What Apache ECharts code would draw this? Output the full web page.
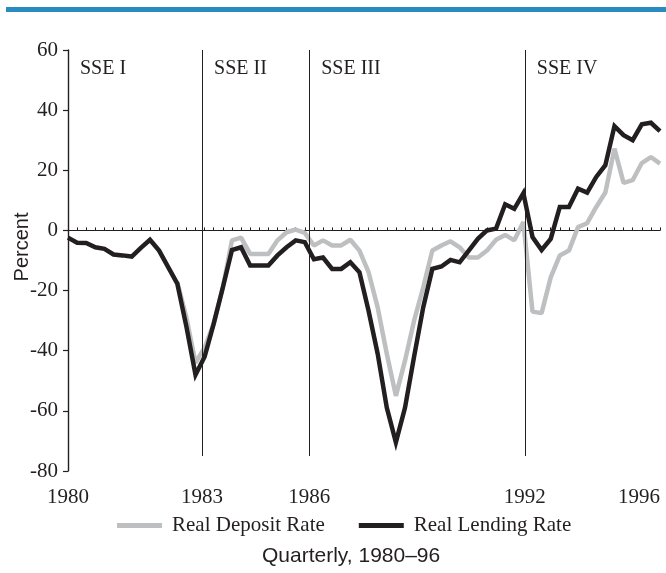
<!DOCTYPE html>
<html>
<head>
<meta charset="utf-8">
<script src="https://cdn.jsdelivr.net/npm/echarts@6/dist/echarts.min.js"></script>
<style>
  html, body { margin: 0; padding: 0; background: #fff; }
  #main { width: 666px; height: 573px; }
</style>
</head>
<body>
<div id="main"></div>
<script>
// quarterly data, first point = 1980 Q1
var startYear = 1980
var lastValue = 1996.25

// real lending rate, percent
var lending = [
  -2.4, -4.1, -4.2, -5.6, -6.1, -8, -8.3, -8.7, -5.8, -3.1,
  -6.7, -12.2, -17.7, -32, -48, -42, -31, -19, -6.5, -5.6,
  -11.7, -11.7, -11.7, -8.3, -5.6, -3.3, -3.9, -9.6, -9, -12.8,
  -12.8, -10.6, -13.9, -26.7, -41, -58.9, -70.5, -59, -42, -25.6,
  -12.8, -12, -9.8, -10.6, -6.7, -2.8, 0, 0.6, 8.7, 7.2,
  12.4, -2.2, -6.5, -2.8, 7.8, 7.8, 13.9, 12.6, 17.8, 21.7,
  34.7, 31.7, 30, 35.3, 35.8, 33
]

// real deposit rate, percent (hidden under lending rate before 1983)
var deposit = [
  null, null, null, null, null, null, null, null, null, null,
  null, null, -17.2, -29, -44, -39, -31, -19, -3.3, -2.4,
  -7.8, -7.8, -7.8, -3.3, -0.6, 0.3, -0.8, -5, -3.3, -5,
  -5, -3.1, -6.7, -13.9, -25.6, -41, -55, -43.3, -30, -19,
  -6.7, -5, -3.6, -5.6, -9, -9, -6.7, -3.1, -1.5, -3.3,
  2.8, -27, -27.5, -15.6, -8.3, -6.7, 1.1, 2.4, 7.8, 12.6,
  27.2, 15.8, 16.7, 22.4, 24.4, 22.2
]

// sub-periods
var periodNames = ['SSE I', 'SSE II', 'SSE III', 'SSE IV']
var periodStarts = [1983.68, 1986.62, 1992.54]

var yearLabels = ['1980', '1983', '1986', '1992', '1996']
var yTicks = { min: -80, max: 60, step: 20 }

var ink = '#231f20'
var serif = 'Liberation Serif'
var sans = 'Liberation Sans'

function toPairs(arr) {
  var out = []
  for (var i = 0; i < arr.length; i++) {
    out.push([startYear + i / 4, arr[i]])
  }
  return out
}

var labelValues = [startYear].concat(periodStarts, [lastValue])
var labelFor = {}
labelValues.forEach(function (v, i) { labelFor[v] = yearLabels[i] })

var bounds = [startYear].concat(periodStarts, [lastValue])
var areas = periodNames.map(function (n, i) {
  return [{ xAxis: bounds[i], name: n }, { xAxis: bounds[i + 1] }]
})
var dividers = periodStarts.map(function (b) {
  return [{ coord: [b, yTicks.max] }, { coord: [b, -75] }]
})

var chart = echarts.init(document.getElementById('main'))

var option = {
  animation: false,
  title: {
    text: 'Quarterly, 1980\u201396',
    left: 262,
    top: 546,
    padding: 0,
    textStyle: { fontFamily: sans, fontSize: 21, fontWeight: 'normal', color: ink }
  },
  legend: {
    left: 117,
    top: 515,
    padding: 0,
    icon: 'rect',
    itemWidth: 45,
    itemHeight: 5,
    itemGap: 34,
    textStyle: { fontFamily: serif, fontSize: 21, color: ink, padding: [0, 0, 0, 5] },
    data: ['Real Deposit Rate', 'Real Lending Rate']
  },
  graphic: [
    {
      type: 'rect',
      shape: { x: 6, y: 7, width: 660, height: 5 },
      style: { fill: '#2a8bc1' }
    },
    {
      type: 'text',
      x: 22,
      y: 247,
      rotation: Math.PI / 2,
      style: {
        text: 'Percent',
        font: '20px ' + sans,
        fill: ink,
        align: 'center',
        verticalAlign: 'middle'
      }
    }
  ],
  grid: { left: 68, right: 6, top: 50, bottom: 102 },
  xAxis: [
    {
      type: 'value',
      min: startYear,
      max: lastValue,
      interval: 0.25,
      position: 'bottom',
      axisLine: { onZero: true, lineStyle: { color: ink, width: 1.2 } },
      axisTick: { inside: true, length: 3, lineStyle: { color: ink, width: 1 } },
      axisLabel: { show: false },
      splitLine: { show: false }
    },
    {
      type: 'value',
      min: startYear,
      max: lastValue,
      position: 'bottom',
      axisLine: { show: false, onZero: false },
      axisTick: { show: false },
      splitLine: { show: false },
      axisLabel: {
        customValues: labelValues,
        alignMaxLabel: 'right',
        margin: 16,
        fontFamily: serif,
        fontSize: 21,
        color: ink,
        formatter: function (v) { return labelFor[v] || '' }
      }
    }
  ],
  yAxis: {
    type: 'value',
    min: yTicks.min,
    max: yTicks.max,
    interval: yTicks.step,
    axisLine: { show: true, onZero: false, lineStyle: { color: ink, width: 1.4 } },
    axisTick: { show: true, length: 5, lineStyle: { color: ink, width: 1.2 } },
    axisLabel: { margin: 10, fontFamily: serif, fontSize: 21, color: ink },
    splitLine: { show: false }
  },
  series: [
    {
      name: 'Real Deposit Rate',
      type: 'line',
      data: toPairs(deposit),
      showSymbol: false,
      symbol: 'none',
      color: '#bdbfc1',
      lineStyle: { width: 4.5, color: '#bdbfc1', join: 'bevel' },
      z: 3,
      markArea: {
        silent: true,
        itemStyle: { color: 'rgba(0,0,0,0)' },
        label: {
          show: true,
          position: 'insideTopLeft',
          distance: 0,
          offset: [12, 9],
          fontFamily: serif,
          fontSize: 20,
          color: ink
        },
        data: areas
      },
      markLine: {
        silent: true,
        symbol: ['none', 'none'],
        label: { show: false },
        lineStyle: { color: ink, width: 1, type: 'solid' },
        data: dividers
      }
    },
    {
      name: 'Real Lending Rate',
      type: 'line',
      data: toPairs(lending),
      showSymbol: false,
      symbol: 'none',
      color: ink,
      lineStyle: { width: 4.5, color: ink, join: 'miter' },
      z: 4
    }
  ]
}

chart.setOption(option)
</script>
</body>
</html>
